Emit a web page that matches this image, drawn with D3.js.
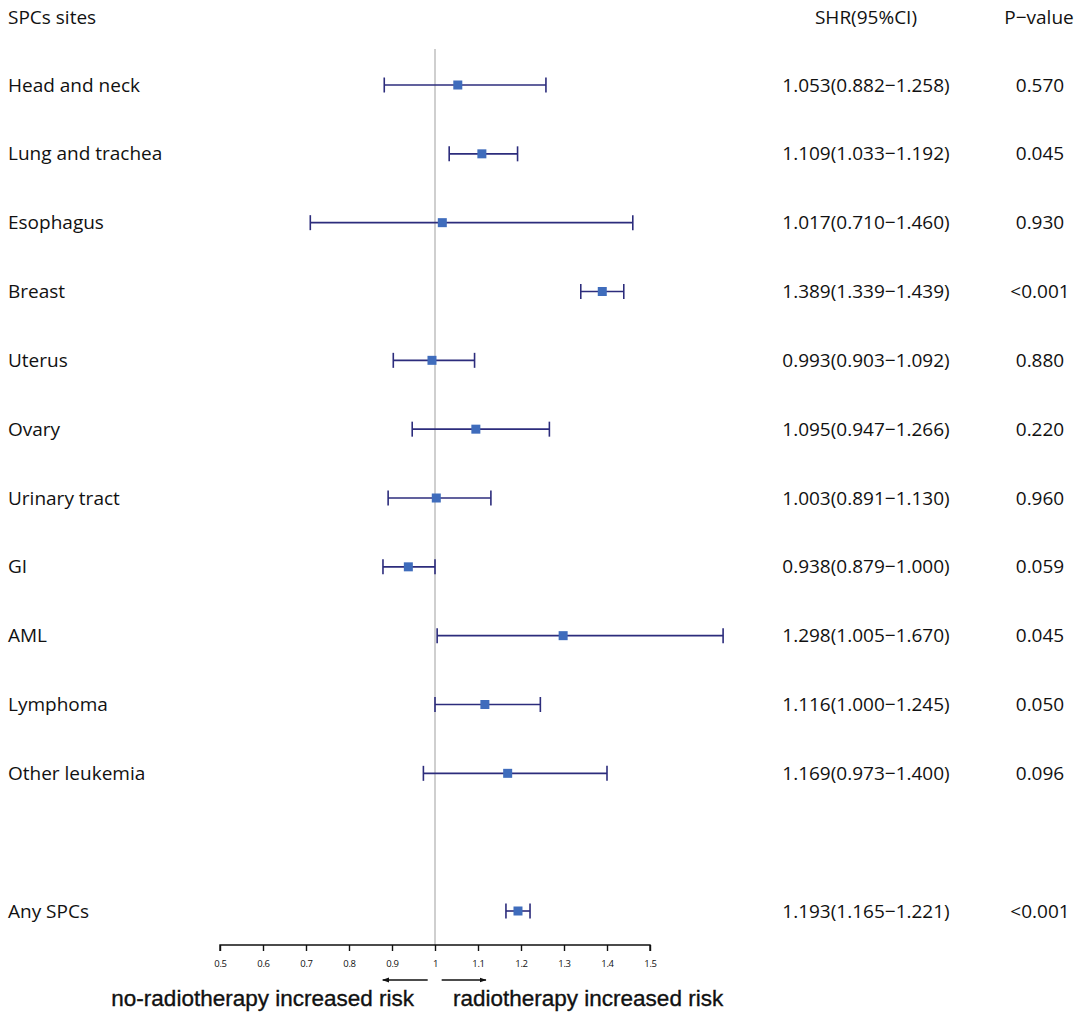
<!DOCTYPE html>
<html>
<head>
<meta charset="utf-8">
<script src="https://cdn.jsdelivr.net/npm/d3@7"></script>
<style>
  html, body { margin: 0; padding: 0; background: #fff; }
  svg { display: block; }
</style>
</head>
<body>
<svg id="chart" width="1084" height="1016"></svg>
<script>
// ---- Data ----
const sites = ["Head and neck", "Lung and trachea", "Esophagus", "Breast", "Uterus", "Ovary",
  "Urinary tract", "GI", "AML", "Lymphoma", "Other leukemia", "Any SPCs"];
const rowIndex = [0, 1, 2, 3, 4, 5, 6, 7, 8, 9, 10, 12];
const shr = [1.053, 1.109, 1.017, 1.389, 0.993, 1.095, 1.003, 0.938, 1.298, 1.116, 1.169, 1.193];
const ciLow = [0.882, 1.033, 0.710, 1.339, 0.903, 0.947, 0.891, 0.879, 1.005, 1.000, 0.973, 1.165];
const ciHigh = [1.258, 1.192, 1.460, 1.439, 1.092, 1.266, 1.130, 1.000, 1.670, 1.245, 1.400, 1.221];
const pValues = ["0.570", "0.045", "0.930", "<0.001", "0.880", "0.220", "0.960", "0.059", "0.045", "0.050", "0.096", "<0.001"];
const xTicks = [0.5, 0.6, 0.7, 0.8, 0.9, 1, 1.1, 1.2, 1.3, 1.4, 1.5];
const headers = ["SPCs sites", "SHR(95%CI)", "P\u2212value"];
const leftNote = "no-radiotherapy increased risk";
const rightNote = "radiotherapy increased risk";

const data = sites.map((s, i) => ({ site: s, row: rowIndex[i], hr: shr[i], lo: ciLow[i], hi: ciHigh[i], p: pValues[i] }));

// ---- Layout ----
const svg = d3.select("#chart");
const font = "'Open Sans', 'Noto Sans', sans-serif";
const x = d3.scaleLinear().domain([0.5, 1.5]).range([220, 650]);
const y = d3.scaleLinear().domain([0, 12]).range([85, 911]);
const axisY = 945;
const lineColor = "#2c2c7c";
const boxColor = "#3f6cbc";
const fmt = d3.format(".3f");

// Headers
svg.append("text").attr("x", 8).attr("y", 17).attr("dy", "0.35em")
  .style("font-family", font).style("font-size", "19px").attr("fill", "#111").text(headers[0]);
svg.append("text").attr("x", 866).attr("y", 17).attr("dy", "0.35em").attr("text-anchor", "middle")
  .style("font-family", font).style("font-size", "19px").attr("fill", "#111").text(headers[1]);
svg.append("text").attr("x", 1039).attr("y", 17).attr("dy", "0.35em").attr("text-anchor", "middle")
  .style("font-family", font).style("font-size", "19px").attr("fill", "#111").text(headers[2]);

// Reference line at 1
svg.append("line")
  .attr("x1", x(1)).attr("x2", x(1)).attr("y1", 49).attr("y2", axisY)
  .attr("stroke", "#cfcfcf").attr("stroke-width", 2);

// Rows
const rows = svg.append("g").selectAll("g").data(data).join("g")
  .attr("transform", d => `translate(0,${y(d.row)})`);

rows.append("text").attr("x", 8).attr("dy", "0.35em")
  .style("font-family", font).style("font-size", "19px").attr("fill", "#111")
  .text(d => d.site);

rows.append("text").attr("x", 866).attr("dy", "0.35em").attr("text-anchor", "middle")
  .style("font-family", font).style("font-size", "19px").attr("fill", "#111")
  .text(d => `${fmt(d.hr)}(${fmt(d.lo)}\u2212${fmt(d.hi)})`);

rows.append("text").attr("x", 1040).attr("dy", "0.35em").attr("text-anchor", "middle")
  .style("font-family", font).style("font-size", "19px").attr("fill", "#111")
  .text(d => d.p);

rows.append("line")
  .attr("x1", d => x(d.lo)).attr("x2", d => x(d.hi))
  .attr("stroke", lineColor).attr("stroke-width", 1.6);
rows.append("line")
  .attr("x1", d => x(d.lo)).attr("x2", d => x(d.lo)).attr("y1", -7.5).attr("y2", 7.5)
  .attr("stroke", lineColor).attr("stroke-width", 1.6);
rows.append("line")
  .attr("x1", d => x(d.hi)).attr("x2", d => x(d.hi)).attr("y1", -7.5).attr("y2", 7.5)
  .attr("stroke", lineColor).attr("stroke-width", 1.6);
rows.append("rect")
  .attr("x", d => x(d.hr) - 4.5).attr("y", -4.5).attr("width", 9).attr("height", 9)
  .attr("fill", boxColor);

// Axis
const axis = d3.axisBottom(x).tickValues(xTicks).tickSize(6).tickPadding(9)
  .tickFormat(d => String(d));
const gAxis = svg.append("g").attr("transform", `translate(0,${axisY})`).call(axis);
gAxis.select(".domain").attr("stroke", "#111").attr("stroke-width", 1.4).attr("d", `M${x(0.5)},6V0H${x(1.5)}V6`);
gAxis.selectAll(".tick line").attr("stroke", "#111").attr("stroke-width", 1.4);
gAxis.selectAll(".tick text").style("font-family", font).style("font-size", "9.5px")
  .attr("fill", "#111").attr("letter-spacing", "-0.3px");

// Arrows
const defs = svg.append("defs");
defs.append("marker").attr("id", "arrow").attr("viewBox", "0 0 10 10")
  .attr("refX", 9).attr("refY", 5).attr("markerWidth", 7).attr("markerHeight", 7)
  .attr("markerUnits", "userSpaceOnUse").attr("orient", "auto")
  .append("path").attr("d", "M0,1.5L10,5L0,8.5Z").attr("fill", "#111");

svg.append("line").attr("x1", x(0.983)).attr("x2", x(0.8785)).attr("y1", 980).attr("y2", 980)
  .attr("stroke", "#111").attr("stroke-width", 1.3).attr("marker-end", "url(#arrow)");
svg.append("line").attr("x1", x(1.0155)).attr("x2", x(1.1185)).attr("y1", 980).attr("y2", 980)
  .attr("stroke", "#111").attr("stroke-width", 1.3).attr("marker-end", "url(#arrow)");

svg.append("text").attr("x", 414).attr("y", 1006).attr("text-anchor", "end")
  .style("font-family", "'Liberation Sans', Arial, sans-serif").style("font-size", "22.5px")
  .attr("fill", "#111").attr("stroke", "#111").attr("stroke-width", 0.35).text(leftNote);
svg.append("text").attr("x", 453).attr("y", 1006)
  .style("font-family", "'Liberation Sans', Arial, sans-serif").style("font-size", "22.5px")
  .attr("fill", "#111").attr("stroke", "#111").attr("stroke-width", 0.35).text(rightNote);
</script>
</body>
</html>
